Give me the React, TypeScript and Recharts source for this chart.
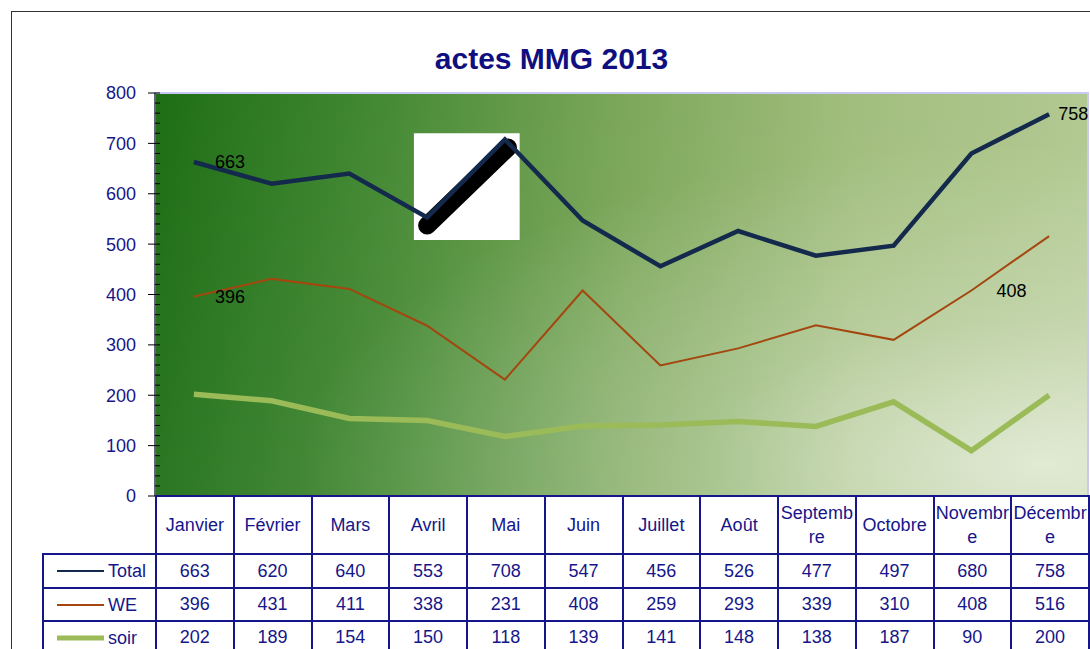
import React from "react";
import {
  LineChart,
  Line,
  XAxis,
  YAxis,
  CartesianGrid,
  ReferenceArea,
  ReferenceLine,
  LabelList,
} from "recharts";

const months = [
  "Janvier", "Février", "Mars", "Avril", "Mai", "Juin",
  "Juillet", "Août", "Septembre", "Octobre", "Novembre", "Décembre",
];
const total = [663, 620, 640, 553, 708, 547, 456, 526, 477, 497, 680, 758];
const we = [396, 431, 411, 338, 231, 408, 259, 293, 339, 310, 408, 516];
const soir = [202, 189, 154, 150, 118, 139, 141, 148, 138, 187, 90, 200];

const yTicks = [0, 100, 200, 300, 400, 500, 600, 700, 800];
const minorTicks = Array.from({ length: 41 }, (_, i) => i * 20);

// points that carry a value label in the original
const totalLabelled = [0, 11];
const weLabelled = [0, 10];

// the white box + black stroke pasted over avril/mai
const boxX = [2.83, 4.19];
const boxY = [508, 720];
const strokeFrom = { x: 3, y: 537 };
const strokeTo = { x: 4.04, y: 692 };

const series = [
  { key: "total", name: "Total", color: "#142a4c", width: 4.5, values: total, labelled: totalLabelled },
  { key: "we", name: "WE", color: "#a3470f", width: 2, values: we, labelled: weLabelled },
  { key: "soir", name: "soir", color: "#9bbb59", width: 5.5, values: soir, labelled: [] as number[] },
];

const data = months.map((m, i) => ({
  idx: i,
  month: m,
  total: total[i],
  we: we[i],
  soir: soir[i],
}));

const NAVY = "#16168a";
const FONT = "'Liberation Sans', Arial, sans-serif";
const COL_W = 933 / 12;
const X_MIN = -0.5;
const MINOR_LEN = 5 / COL_W; // 5px inside the plot, in x units

function makeLabel(shown: number[]) {
  return (props: any) => {
    const { x, y, index, value } = props;
    if (!shown.includes(index)) return null;
    const dx = index === 11 ? 9 : index === 10 ? 25 : 21;
    return (
      <text x={x + dx} y={y} dy="0.35em" fill="#000" fontSize={18} fontFamily={FONT}>
        {value}
      </text>
    );
  };
}

function DataTable() {
  const line = `2px solid ${NAVY}`;
  const cell: React.CSSProperties = {
    border: line,
    textAlign: "center",
    color: NAVY,
    fontSize: 18,
    padding: 0,
  };
  return (
    <table
      style={{
        position: "absolute",
        left: 42,
        top: 495,
        borderCollapse: "collapse",
        tableLayout: "fixed",
        width: 113 + 933,
        fontFamily: FONT,
      }}
    >
      <colgroup>
        <col style={{ width: 113 }} />
        {months.map((m) => (
          <col key={m} style={{ width: COL_W }} />
        ))}
      </colgroup>
      <tbody>
        <tr style={{ height: 58 }}>
          <td style={{ borderBottom: line }} />
          {months.map((m) => (
            <td
              key={m}
              style={{ ...cell, wordBreak: "break-all", lineHeight: "24px" }}
            >
              {m}
            </td>
          ))}
        </tr>
        {series.map((s, r) => (
          <tr key={s.key} style={{ height: r === 0 ? 34 : 33 }}>
            <td style={{ ...cell, textAlign: "left", paddingLeft: 13, whiteSpace: "nowrap" }}>
              <svg width={51} height={10} style={{ verticalAlign: "middle" }}>
                <line x1={0} y1={5} x2={47} y2={5} stroke={s.color} strokeWidth={s.key === "soir" ? 5 : 2} />
              </svg>
              <span style={{ verticalAlign: "middle" }}>{s.name}</span>
            </td>
            {s.values.map((v, i) => (
              <td key={i} style={cell}>
                {v}
              </td>
            ))}
          </tr>
        ))}
      </tbody>
    </table>
  );
}

export default function App() {
  return (
    <div
      style={{
        position: "fixed",
        left: 0,
        top: 0,
        width: 1090,
        height: 649,
        overflow: "hidden",
        background: "#fff",
      }}
    >
      <div
        style={{
          position: "absolute",
          left: 11,
          top: 11,
          width: 1200,
          height: 800,
          border: "1px solid #333",
        }}
      />
      <div
        style={{
          position: "absolute",
          left: 11,
          top: 42,
          width: 1081,
          textAlign: "center",
          fontFamily: FONT,
          fontWeight: "bold",
          fontSize: 30,
          color: "#0f0f80",
        }}
      >
        actes MMG 2013
      </div>
      <div style={{ position: "absolute", left: 0, top: 0 }}>
        <LineChart
          width={1090}
          height={649}
          data={data}
          margin={{ top: 93, right: 2, left: 95, bottom: 153 }}
        >
          <defs>
            <linearGradient id="bgLin" x1="0" y1="0" x2="1" y2="0">
              <stop offset="0%" stopColor="#1d6e15" />
              <stop offset="25%" stopColor="#468a35" />
              <stop offset="50%" stopColor="#7ca75a" />
              <stop offset="75%" stopColor="#a2be7e" />
              <stop offset="100%" stopColor="#b2c992" />
            </linearGradient>
            <radialGradient id="bgGlow" cx="0.95" cy="0.92" r="0.8">
              <stop offset="0%" stopColor="#ffffff" stopOpacity={0.6} />
              <stop offset="45%" stopColor="#ffffff" stopOpacity={0.22} />
              <stop offset="100%" stopColor="#ffffff" stopOpacity={0} />
            </radialGradient>
            <linearGradient id="bgLeft" x1="0" y1="0" x2="0" y2="1">
              <stop offset="0%" stopColor="#ffffff" stopOpacity={0} />
              <stop offset="100%" stopColor="#ffffff" stopOpacity={0.06} />
            </linearGradient>
            <pattern
              id="bg"
              patternUnits="objectBoundingBox"
              patternContentUnits="objectBoundingBox"
              width="1"
              height="1"
            >
              <rect x="0" y="0" width="1" height="1" fill="url(#bgLin)" />
              <rect x="0" y="0" width="1" height="1" fill="url(#bgLeft)" />
              <rect x="0" y="0" width="1" height="1" fill="url(#bgGlow)" />
            </pattern>
          </defs>
          <CartesianGrid
            yAxisId="main"
            horizontal={false}
            vertical={false}
            fill="url(#bg)"
            fillOpacity={1}
          />
          <XAxis type="number" dataKey="idx" domain={[X_MIN, 11.5]} hide />
          <YAxis
            yAxisId="main"
            width={60}
            domain={[0, 800]}
            ticks={yTicks}
            interval={0}
            tickSize={7}
            tickMargin={12}
            axisLine={{ stroke: "#000" }}
            tickLine={{ stroke: "#000" }}
            tick={{ fill: NAVY, fontSize: 18, fontFamily: FONT }}
          />
          <ReferenceArea
            yAxisId="main"
            x1={X_MIN}
            x2={11.5}
            y1={0}
            y2={800}
            fill="none"
            stroke="#c8c8f2"
            strokeWidth={2}
          />
          {minorTicks.map((v) => (
            <ReferenceLine
              key={v}
              yAxisId="main"
              segment={[
                { x: X_MIN, y: v },
                { x: X_MIN + MINOR_LEN, y: v },
              ]}
              stroke="#000"
              strokeWidth={1}
            />
          ))}
          <ReferenceArea
            yAxisId="main"
            x1={boxX[0]}
            x2={boxX[1]}
            y1={boxY[0]}
            y2={boxY[1]}
            fill="#fff"
            fillOpacity={1}
          />
          <ReferenceLine
            yAxisId="main"
            segment={[strokeFrom, strokeTo]}
            stroke="#000"
            strokeWidth={18}
            strokeLinecap="round"
          />
          {series.map((s) => (
            <Line
              key={s.key}
              yAxisId="main"
              type="linear"
              dataKey={s.key}
              stroke={s.color}
              strokeWidth={s.width}
              dot={false}
              activeDot={false}
              isAnimationActive={false}
            >
              {s.labelled.length > 0 && (
                <LabelList dataKey={s.key} content={makeLabel(s.labelled)} />
              )}
            </Line>
          ))}
        </LineChart>
      </div>
      <DataTable />
    </div>
  );
}
